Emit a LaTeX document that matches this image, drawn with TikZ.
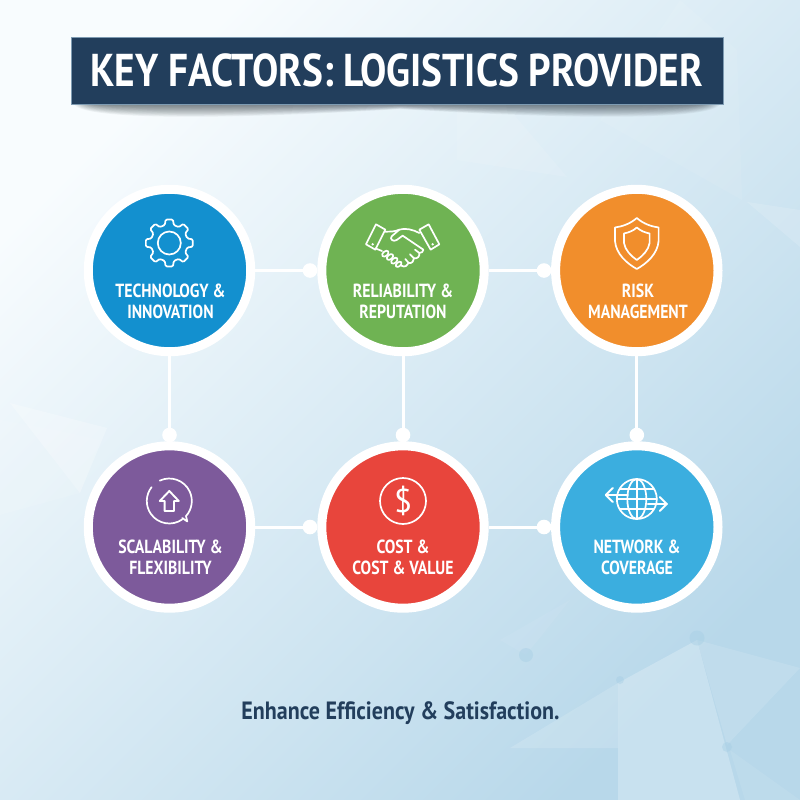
\documentclass[tikz,border=0pt]{standalone}
\usepackage{fontspec}
\setmainfont{PT Sans}
\newfontfamily\titlefont[FakeStretch=0.855]{PT Sans Bold}
\newfontfamily\lblfont[FakeStretch=0.83]{PT Sans Bold}
\newfontfamily\tagfont[FakeStretch=0.88]{PT Sans Bold}
\definecolor{navy}{HTML}{223E5C}
\definecolor{edgeblue}{HTML}{7E9BB2}
\definecolor{cblue}{HTML}{1390CF}
\definecolor{cgreen}{HTML}{6FB353}
\definecolor{corange}{HTML}{F18E2C}
\definecolor{cpurple}{HTML}{7D5A9B}
\definecolor{cred}{HTML}{E8453C}
\definecolor{csky}{HTML}{3BAEDF}
\definecolor{bgA}{HTML}{F8FCFE}
\definecolor{bgB}{HTML}{DDECF5}
\definecolor{bgC}{HTML}{B8D8EA}
\definecolor{dotblue}{HTML}{A4CDE4}
\tikzset{
  factor/.style={circle,draw=white,line width=9pt,fill=#1,minimum size=162.4pt,inner sep=0pt},
  joint/.style={circle,fill=white,minimum size=14.6pt,inner sep=0pt},
  conn/.style={draw=white,line width=3pt},
  lbl/.style={text=white,align=center,font=\lblfont\fontsize{19}{21}\selectfont},
  icon/.style={draw=white,line width=1.7pt,line join=round,line cap=round},
  facet/.style={fill=white,opacity=#1,draw=none},
  bgdot/.style={fill=dotblue,opacity=.4,draw=none}
}
\begin{document}
\begin{tikzpicture}[x=1pt,y=-1pt]
\useasboundingbox (0,0) rectangle (800,800);
% background
\shade[shading=axis,top color=bgA,middle color=bgB,bottom color=bgC,shading angle=45] (0,0) rectangle (800,800);
\fill[facet=.24] (10,403) -- (107,428) -- (80,493) -- cycle;
\fill[facet=.09] (0,515) -- (80,493) -- (100,440) -- (55,430) -- (0,420) -- cycle;
\fill[facet=.1] (457,110) -- (510,110) -- (567,177) -- (457,160) -- cycle;
\fill[facet=.07] (680,0) -- (737,50) -- (742,200) -- (600,120) -- cycle;
\fill[facet=.14] (747,202) -- (800,210) -- (800,247) -- cycle;
\fill[facet=.24] (618,683) -- (697,640) -- (740,800) -- (618,800) -- cycle;
\fill[facet=.15] (510,748) -- (618,683) -- (618,748) -- cycle;
\fill[facet=.12] (697,640) -- (800,668) -- (727,745) -- cycle;
\fill[facet=.08] (730,750) -- (800,800) -- (745,800) -- cycle;
\fill[facet=.06] (500,640) -- (570,600) -- (526,655) -- cycle;
\fill[bgdot] (697,638) circle[radius=7.5];
\fill[bgdot] (526,655) circle[radius=7];
\fill[bgdot] (620,680) circle[radius=4];
\fill[bgdot] (727,747) circle[radius=5];
% title shadow
\foreach \i in {0,...,13}{
  \pgfmathsetmacro\e{120-1.15*\i}
  \pgfmathsetmacro\m{109-0.35*\i}
  \fill[black!70!navy,opacity=.048] ({74+1.6*\i},104) .. controls ({82+1.6*\i},\e) and (220,\e) .. (400,\m) .. controls (580,\e) and ({712-1.6*\i},\e) .. ({720-1.6*\i},104) -- cycle;
}
% title
\node[fill=navy,draw=edgeblue,line width=.6pt,minimum width=652pt,minimum height=67pt,inner sep=0pt,text=white,font=\titlefont\fontsize{46}{50}\selectfont] (title) at (396.8,70.5) {KEY FACTORS: LOGISTICS PROVIDER};
% circles
\node[factor=cblue] (tech) at (169.5,270.5) {};
\node[factor=cgreen] (rel) at (403,270.5) {};
\node[factor=corange] (risk) at (636.8,270.5) {};
\node[factor=cpurple] (scal) at (169.5,527) {};
\node[factor=cred] (cost) at (403,527) {};
\node[factor=csky] (net) at (636.8,527) {};
% joints
\node[joint] (j1) at (310,270.5) {};
\node[joint] (j2) at (544,270.5) {};
\node[joint] (j3) at (310,527) {};
\node[joint] (j4) at (544,527) {};
\node[joint] (j5) at (169.5,435) {};
\node[joint] (j6) at (403,435) {};
\node[joint] (j7) at (636.8,435) {};
% connectors
\draw[conn] (tech) -- (j1);
\draw[conn] (rel) -- (j2);
\draw[conn] (scal) -- (j3);
\draw[conn] (cost) -- (j4);
\draw[conn] (tech) -- (j5);
\draw[conn] (rel) -- (j6);
\draw[conn] (risk) -- (j7);
% labels
\node[lbl] (ltech) at (170.5,301.5) {TECHNOLOGY \&\\INNOVATION};
\node[lbl] (lrel) at (403,301.5) {RELIABILITY \&\\REPUTATION};
\node[lbl] (lrisk) at (638,301.5) {RISK\\MANAGEMENT};
\node[lbl] (lscal) at (170.5,557.5) {SCALABILITY \&\\FLEXIBILITY};
\node[lbl] (lcost) at (403,557.5) {COST \&\\COST \& VALUE};
\node[lbl] (lnet) at (637,557.5) {NETWORK \&\\COVERAGE};
% gear
\begin{scope}[shift={(169.3,243)}]
\draw[icon,rounded corners=1.2pt] (-14:18.5) \foreach \a in {0,45,...,315}{ -- ({\a-14}:18.5) -- ({\a-9}:23.7) -- ({\a+9}:23.7) -- ({\a+14}:18.5)} -- cycle;
\draw[icon] (0,0) circle[radius=11.5];
\end{scope}
% handshake
\begin{scope}[shift={(360,215)},scale=1/3]
\draw[icon] (18,88) -- (48,28) -- (76,44) -- (46,104) -- cycle;
\draw[icon] (178,44) -- (206,28) -- (238,88) -- (212,104) -- cycle;
\fill[white] (38,88) circle[radius=4];
\fill[white] (218,88) circle[radius=4];
\draw[icon] (76,50) .. controls (92,50) and (104,50) .. (118,44);
\draw[icon] (178,54) .. controls (160,44) and (135,38) .. (118,44) -- (95,64) .. controls (88,72) and (100,82) .. (110,75) -- (128,62) -- (190,104);
\draw[icon] (46,100) -- (66,108);
\draw[icon,rotate around={40:(76,116)}] (76,116) ellipse[x radius=11,y radius=7];
\draw[icon,rotate around={40:(90,126)}] (90,126) ellipse[x radius=11,y radius=7];
\draw[icon,rotate around={40:(103,137)}] (103,137) ellipse[x radius=11,y radius=7];
\draw[icon,rotate around={40:(116,148)}] (116,148) ellipse[x radius=10,y radius=6];
\draw[icon] (124,152) .. controls (135,158) and (142,152) .. (146,144) -- (136,132);
\draw[icon] (146,144) .. controls (156,146) and (162,138) .. (162,130) -- (150,118);
\draw[icon] (162,130) .. controls (172,132) and (180,124) .. (178,114) -- (165,104);
\draw[icon] (178,114) .. controls (185,114) and (190,110) .. (190,104);
\end{scope}
% shield
\draw[icon] (636.8,218) .. controls (630,224) and (622,226.5) .. (615,227.5) -- (615,241) .. controls (616,254) and (627,263.5) .. (636.8,269) .. controls (646.6,263.5) and (657.6,254) .. (658.6,241) -- (658.6,227.5) .. controls (651.6,226.5) and (643.6,224) .. cycle;
\draw[icon] (636.8,227.5) .. controls (633,231) and (628.5,232.5) .. (624,233.5) -- (624,243) .. controls (625,250) and (631,256) .. (636.8,260) .. controls (642.6,256) and (648.6,250) .. (649.6,243) -- (649.6,233.5) .. controls (645.1,232.5) and (640.6,231) .. cycle;
% scalability
\begin{scope}[shift={(169.3,501)}]
\draw[icon] (-115:22.5) arc[start angle=-115,end angle=42,radius=22.5];
\draw[icon] (55:22.5) arc[start angle=55,end angle=218,radius=22.5];
\draw[icon] (42:22.5) -- (18,20.5) -- (13,17);
\draw[icon,line width=1.9pt] (0,-10) -- (9.5,0) -- (4.7,0) -- (4.7,10) -- (-4.7,10) -- (-4.7,0) -- (-9.5,0) -- cycle;
\end{scope}
% dollar
\begin{scope}[shift={(403,501)}]
\draw[icon] (0,0) circle[radius=23];
\node[text=white,font=\fontsize{33}{33}\selectfont] (dollar) at (0,0) {\$};
\end{scope}
% globe
\begin{scope}[shift={(636.8,499)}]
\draw[icon] (0,0) circle[radius=20];
\draw[icon] (0,0) ellipse[x radius=9.5,y radius=20];
\draw[icon] (0,-20) -- (0,20);
\draw[icon] (-17,-10) -- (17,-10);
\draw[icon] (-20,0) -- (20,0);
\draw[icon] (-17,10) -- (17,10);
\draw[icon,line width=2pt] (-9,-4) -- (-31,-4);
\draw[icon,line width=2pt] (-24,-11) -- (-31,-4) -- (-24,3);
\draw[icon,line width=2pt] (11,5) -- (30,5);
\draw[icon,line width=2pt] (23,-2) -- (30,5) -- (23,12);
\end{scope}
% footer
\node[text=navy,font=\tagfont\fontsize{25}{28}\selectfont] (tag) at (400.5,713.5) {Enhance Efficiency \& Satisfaction.};
\end{tikzpicture}
\end{document}
